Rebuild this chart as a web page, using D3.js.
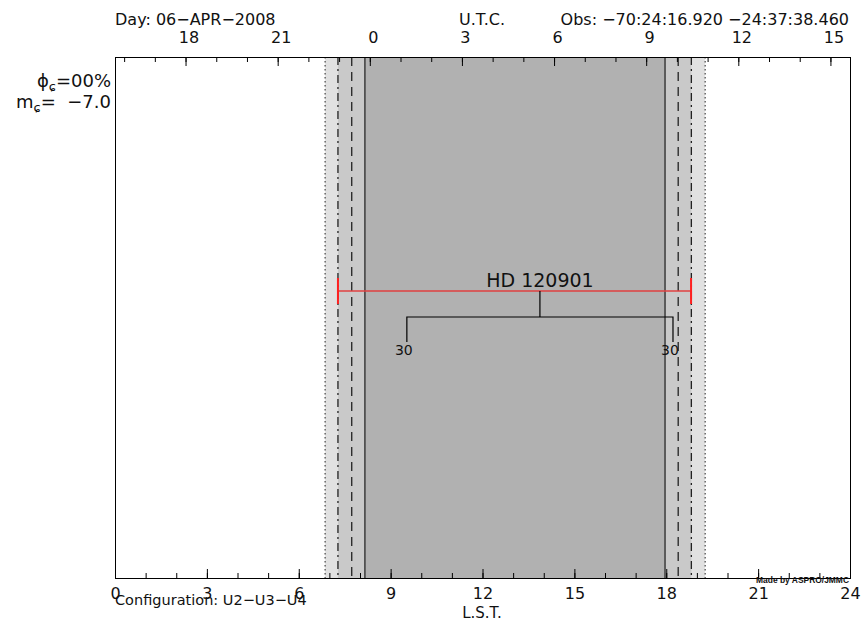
<!DOCTYPE html>
<html><head><meta charset="utf-8">
<script src="https://cdn.jsdelivr.net/npm/d3@7"></script>
<style>
html,body{margin:0;padding:0;background:#fff;}
svg{display:block;font-family:"DejaVu Sans",sans-serif;}
</style></head>
<body>
<svg id="chart" width="861" height="621"></svg>
<script>
// ---- data ----
const lstTicks = [0,1,2,3,4,5,6,7,8,9,10,11,12,13,14,15,16,17,18,19,20,21,22,23,24];
const lstLabels = [0,3,6,9,12,15,18,21,24];
const utcHours = [-8,-7,-6,-5,-4,-3,-2,-1,0,1,2,3,4,5,6,7,8,9,10,11,12,13,14,15];
const utcLabels = [-6,-3,0,3,6,9,12,15];
const lstAtUtc0 = 8.32;          // LST (h) at 0h UTC
const siderealRate = 1.00274;
// night limits in LST hours (start, end)
const twilightAstro = [6.86, 19.27];   // dotted
const twilightNaut  = [7.28, 18.82];   // dash-dot
const twilightCivil = [7.73, 18.39];   // dashed
const sunLimits     = [8.16, 17.96];   // solid
const stars = ["HD 120901"];
const starRise = [7.28];
const starSet  = [18.81];
const elevLimitLabel = ["30"];
const elevStart = [9.53];
const elevEnd   = [18.22];
const dayText = "Day: 06\u2212APR\u22122008";
const obsText = "Obs: \u221270:24:16.920 \u221224:37:38.460";
const configText = "Configuration: U2\u2212U3\u2212U4";
const moonPhase = "00%";
const moonMag = "\u22127.0";

// ---- layout ----
const L = 115, R = 850, T = 57, B = 578;
const svg = d3.select("#chart");
const x = d3.scaleLinear().domain([0,24]).range([L,R]);
const u0 = (0 - lstAtUtc0)/siderealRate, u1 = (24 - lstAtUtc0)/siderealRate;
const xu = d3.scaleLinear().domain([u0,u1]).range([L,R]);
const y = d3.scalePoint().domain(stars).range([291,291]);

// shaded bands
const bands = [
  {r: twilightAstro, c: "#e1e1e1"},
  {r: twilightNaut,  c: "#c9c9c9"},
  {r: sunLimits,     c: "#b1b1b1"}
];
svg.selectAll("rect.band").data(bands).join("rect")
  .attr("x", d => x(d.r[0])).attr("width", d => x(d.r[1]) - x(d.r[0]))
  .attr("y", T).attr("height", B - T).attr("fill", d => d.c);

// limit lines
const lines = [
  {r: twilightAstro, dash: "1.5,2.5", c:"#222", w:1},
  {r: twilightNaut,  dash: "8,4,2,4", c:"#222", w:1.3},
  {r: twilightCivil, dash: "9,6", c:"#222", w:1.3},
  {r: sunLimits,     dash: null, c:"#444", w:1.6}
];
lines.forEach(l => {
  svg.selectAll(null).data(l.r).join("line")
    .attr("x1", d => x(d)).attr("x2", d => x(d))
    .attr("y1", T).attr("y2", B)
    .attr("stroke", l.c).attr("stroke-width", l.w)
    .attr("stroke-dasharray", l.dash);
});

// star observability
stars.forEach((s,i) => {
  const yy = y(s);
  const mid = x((elevStart[i] + elevEnd[i]) / 2);
  svg.append("line").attr("x1", x(starRise[i])).attr("x2", x(starSet[i]))
    .attr("y1", yy).attr("y2", yy).attr("stroke", "#e04040").attr("stroke-width", 1.3);
  [starRise[i], starSet[i]].forEach(v => {
    svg.append("line").attr("x1", x(v)).attr("x2", x(v))
      .attr("y1", yy - 13).attr("y2", yy + 13)
      .attr("stroke", "#ff2020").attr("stroke-width", 2);
  });
  svg.append("text").attr("x", mid).attr("y", yy - 4)
    .attr("text-anchor", "middle").attr("font-size", 19).attr("fill", "#111").text(s);
  // elevation bracket
  const yb = yy + 26;
  svg.append("path")
    .attr("d", `M${x(elevStart[i])},${yb + 25}V${yb}H${x(elevEnd[i])}V${yb + 25}M${mid},${yb}V${yy}`)
    .attr("fill", "none").attr("stroke", "#000").attr("stroke-width", 1.2);
  [elevStart[i], elevEnd[i]].forEach(v => {
    svg.append("text").attr("x", x(v) - 3).attr("y", yb + 38)
      .attr("text-anchor", "middle").attr("font-size", 14).attr("fill", "#111").text(elevLimitLabel[i]);
  });
});

// frame
svg.append("rect").attr("x", L + 0.5).attr("y", T + 0.5).attr("width", R - L).attr("height", B - T)
  .attr("fill", "none").attr("stroke", "#000").attr("stroke-width", 1);

// bottom axis (LST)
const gB = svg.append("g").attr("transform", `translate(0,${B})`);
gB.append("g").call(d3.axisBottom(x).tickValues(lstTicks).tickSize(-5).tickFormat(""));
gB.append("g").call(d3.axisBottom(x).tickValues(lstLabels).tickSize(-9).tickPadding(10).tickFormat(d3.format("d")));
// top axis (UTC)
const gT = svg.append("g").attr("transform", `translate(0,${T})`);
gT.append("g").call(d3.axisTop(xu).tickValues(utcHours).tickSize(-5).tickFormat(""));
gT.append("g").call(d3.axisTop(xu).tickValues(utcLabels).tickSize(-9).tickPadding(14)
  .tickFormat(d => String((d + 24) % 24)));
svg.selectAll(".domain").remove();
svg.selectAll(".tick line").attr("stroke", "#000");
svg.selectAll(".tick text").attr("font-size", 16).attr("font-family", "DejaVu Sans").attr("fill", "#111");
gT.selectAll(".tick text").attr("dx", 3);

// header texts
svg.append("text").attr("x", L).attr("y", 25).attr("font-size", 16).attr("fill", "#111").text(dayText);
svg.append("text").attr("x", 459).attr("y", 25).attr("font-size", 16).attr("fill", "#111").text("U.T.C.");
svg.append("text").attr("x", 849).attr("y", 25).attr("text-anchor", "end").attr("font-size", 16).attr("fill", "#111").text(obsText);

// moon info
const t1 = svg.append("text").attr("x", 111).attr("y", 87).attr("text-anchor", "end").attr("font-size", 18).attr("fill", "#111");
t1.append("tspan").text("\u03d5");
t1.append("tspan").attr("font-size", 13).attr("dy", 4).text("\u0255");
t1.append("tspan").attr("dy", -4).text("=" + moonPhase);
const t2 = svg.append("text").attr("x", 111).attr("y", 108).attr("text-anchor", "end").attr("font-size", 18)
  .attr("fill", "#111").style("white-space", "pre");
t2.append("tspan").text("m");
t2.append("tspan").attr("font-size", 13).attr("dy", 4).text("\u0255");
t2.append("tspan").attr("dy", -4).text("=  " + moonMag);

// footer texts
svg.append("text").attr("x", L).attr("y", 605).attr("font-size", 14.5).attr("fill", "#111").text(configText);
svg.append("text").attr("x", 482).attr("y", 618).attr("text-anchor", "middle").attr("font-size", 15).attr("fill", "#111").text("L.S.T.");
svg.append("text").attr("x", 849).attr("y", 583).attr("text-anchor", "end").attr("font-size", 9)
  .attr("font-family", "Liberation Sans Narrow, Liberation Sans, sans-serif").attr("font-weight", "bold")
  .attr("textLength", 93).attr("lengthAdjust", "spacingAndGlyphs").attr("fill", "#111").text("Made by ASPRO/JMMC");
</script>
</body></html>
